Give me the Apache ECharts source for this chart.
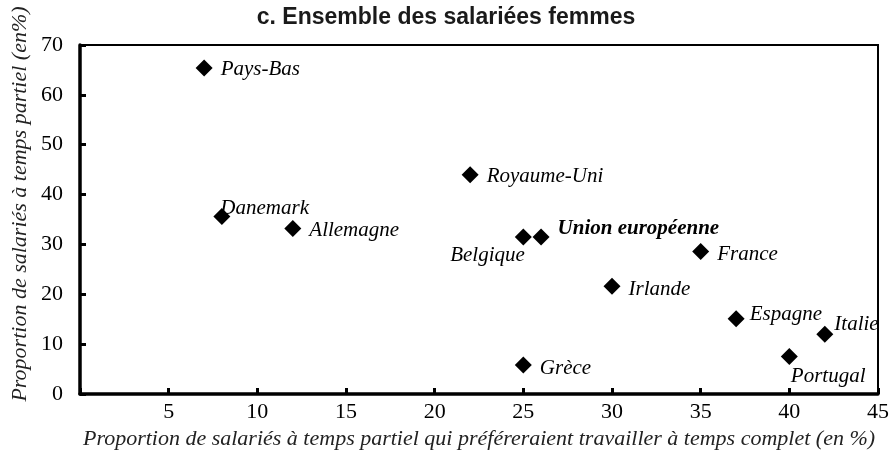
<!DOCTYPE html>
<head>
    <meta charset="utf-8">
    <title>Ensemble des salariées femmes</title>
    <script src="https://cdn.jsdelivr.net/npm/echarts@6/dist/echarts.min.js"></script>
    <style>
        html, body{
            margin: 0;
            padding: 0;
            background: #fff;
        }
        #chart{
            width: 894px;
            height: 455px;
        }
    </style>
</head>
<body>
    <div id="chart"></div>
    <script>
        // données
        var pays = ['Pays-Bas', 'Danemark', 'Allemagne', 'Royaume-Uni', 'Belgique', 'Union européenne',
                    'France', 'Irlande', 'Espagne', 'Italie', 'Portugal', 'Grèce'];
        var tempsComplet = [7, 8, 12, 22, 25, 26, 35, 30, 37, 42, 40, 25];
        var tempsPartiel = [65.4, 35.6, 33.2, 44.0, 31.5, 31.5, 28.6, 21.6, 15.1, 12.0, 7.5, 5.8];
        var xTicks = [5, 10, 15, 20, 25, 30, 35, 40, 45];
        var yTicks = [0, 10, 20, 30, 40, 50, 60, 70];

        // placement des étiquettes (style uniquement)
        var labelPos = {
            'Pays-Bas': ['right', 0, 2],
            'Danemark': ['right', -18, -8],
            'Allemagne': ['right', 0, 2],
            'Royaume-Uni': ['right', 0, 2],
            'Belgique': ['left', 18, 19],
            'Union européenne': ['right', 0, -8],
            'France': ['right', 0, 3],
            'Irlande': ['right', 0, 3],
            'Espagne': ['right', -3, -4],
            'Italie': ['right', -7, -10],
            'Portugal': ['right', -15, 20],
            'Grèce': ['right', 0, 3]
        };

        var serif = 'Liberation Serif, Times New Roman, serif';

        var data = pays.map(function(p, i){
            var lp = labelPos[p];
            return {
                name: p,
                value: [tempsComplet[i], tempsPartiel[i]],
                label: {
                    position: lp[0],
                    offset: [lp[1], lp[2]],
                    fontWeight: p === 'Union européenne' ? 'bold' : 'normal'
                }
            };
        });

        var myChart = echarts.init(document.getElementById('chart'));
        var option = {
            backgroundColor: '#fff',
            animation: false,
            title: {
                text: 'c. Ensemble des salariées femmes',
                left: 441,
                top: 1,
                textAlign: 'center',
                textStyle: {
                    fontFamily: 'Liberation Sans, Arial, sans-serif',
                    fontWeight: 'bold',
                    fontSize: 23,
                    color: '#1a1a1a'
                }
            },
            grid: {
                left: 80,
                right: 16,
                top: 45,
                bottom: 57,
                show: true,
                borderColor: '#000',
                borderWidth: 2
            },
            graphic: [{
                type: 'text',
                x: 20,
                y: 204,
                rotation: Math.PI / 2,
                style: {
                    text: 'Proportion de salariés à temps partiel (en%)',
                    font: 'italic 22px ' + serif,
                    fill: '#222',
                    align: 'center',
                    verticalAlign: 'middle'
                }
            }],
            xAxis: {
                type: 'value',
                min: 0,
                max: 45,
                interval: 5,
                name: 'Proportion de salariés à temps partiel qui préféreraient travailler à temps complet (en %)',
                nameLocation: 'middle',
                nameGap: 45,
                nameTextStyle: {
                    fontFamily: serif,
                    fontStyle: 'italic',
                    fontSize: 22,
                    color: '#222',
                    verticalAlign: 'middle'
                },
                axisLine: { lineStyle: { color: '#000', width: 3.5 } },
                axisTick: { inside: true, length: 6, lineStyle: { color: '#000', width: 3 } },
                splitLine: { show: false },
                axisLabel: {
                    margin: 7,
                    fontFamily: serif,
                    fontSize: 22,
                    color: '#000',
                    formatter: function(v){
                        return xTicks.indexOf(v) >= 0 ? String(v) : '';
                    }
                }
            },
            yAxis: {
                type: 'value',
                min: 0,
                max: 70,
                interval: 10,
                axisLine: { show: true, lineStyle: { color: '#000', width: 3.5 } },
                axisTick: { show: true, inside: true, length: 6, lineStyle: { color: '#000', width: 3 } },
                splitLine: { show: false },
                axisLabel: {
                    margin: 17,
                    fontFamily: serif,
                    fontSize: 22,
                    color: '#000',
                    formatter: function(v){
                        return yTicks.indexOf(v) >= 0 ? String(v) : '';
                    }
                }
            },
            series: [{
                type: 'scatter',
                symbol: 'diamond',
                symbolSize: 17,
                itemStyle: { color: '#000', opacity: 1 },
                label: {
                    show: true,
                    distance: 8,
                    formatter: '{b}',
                    fontFamily: serif,
                    fontStyle: 'italic',
                    fontSize: 21,
                    color: '#000'
                },
                data: data
            }]
        };
        myChart.setOption(option);
    </script>
</body>
